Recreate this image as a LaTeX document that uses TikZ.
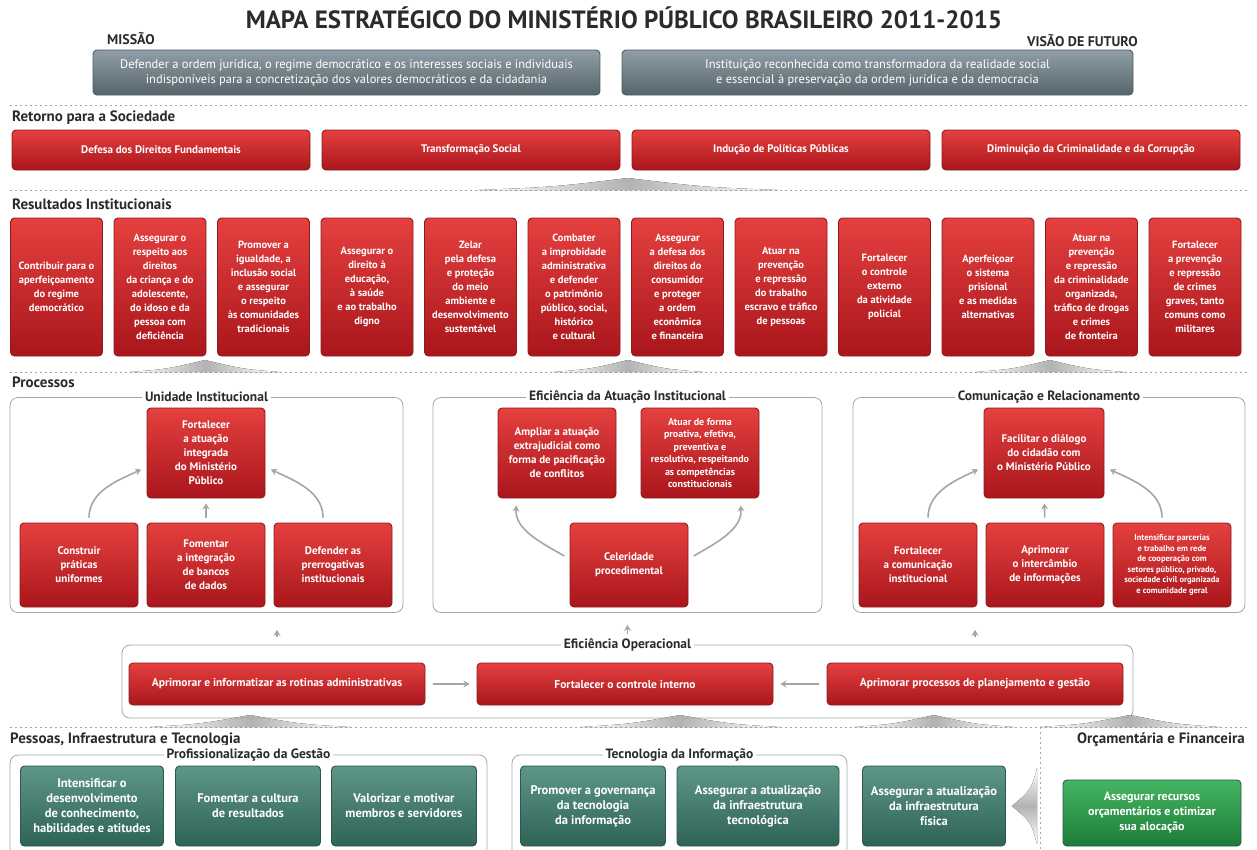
\documentclass[tikz,border=0pt]{standalone}
\usepackage{fontspec}
\setmainfont{PT Sans}
\usetikzlibrary{arrows.meta}

\definecolor{mpRedTop}{HTML}{E5403F}
\definecolor{mpRed}{HTML}{DA1F25}
\definecolor{mpRedBot}{HTML}{A9161B}
\definecolor{mpRedLine}{HTML}{8A1C1E}
\definecolor{mpGrayTop}{HTML}{909FA7}
\definecolor{mpGray}{HTML}{6F7F88}
\definecolor{mpGrayBot}{HTML}{56646B}
\definecolor{mpGrayLine}{HTML}{4E5A60}
\definecolor{mpTealTop}{HTML}{5E9688}
\definecolor{mpTeal}{HTML}{3F7B6C}
\definecolor{mpTealBot}{HTML}{2E6356}
\definecolor{mpTealLine}{HTML}{2A5A4E}
\definecolor{mpGreenTop}{HTML}{45B562}
\definecolor{mpGreen}{HTML}{27984A}
\definecolor{mpGreenBot}{HTML}{1D7C38}
\definecolor{mpLine}{HTML}{A5A5A5}
\definecolor{mpText}{HTML}{2B2B2B}

\tikzset{
  box/.style={rounded corners=4pt, line width=.9pt, text=white, align=center,
    inner sep=1pt, font=\bfseries\fontsize{10.5}{14}\selectfont},
  redbox/.style={box, draw=mpRedLine, top color=mpRedTop, middle color=mpRed,
    bottom color=mpRedBot},
  graybox/.style={box, draw=mpGrayLine, top color=mpGrayTop, middle color=mpGray,
    bottom color=mpGrayBot, font=\fontsize{12.5}{15}\selectfont},
  tealbox/.style={box, draw=mpTealLine, top color=mpTealTop, middle color=mpTeal,
    bottom color=mpTealBot, minimum height=80pt, font=\bfseries\fontsize{12.5}{15}\selectfont},
  greenbox/.style={box, draw=mpTealLine, top color=mpGreenTop, middle color=mpGreen,
    bottom color=mpGreenBot, font=\bfseries\fontsize{12}{15}\selectfont},
  retbox/.style={minimum width=298pt, minimum height=40pt,
    font=\bfseries\fontsize{11}{13}\selectfont},
  resbox/.style={minimum width=92pt, minimum height=138pt, inner xsep=0pt},
  procbox/.style={minimum width=118pt, minimum height=90pt,
    font=\bfseries\fontsize{11}{14}\selectfont},
  procbot/.style={procbox, minimum height=84pt},
  opbox/.style={minimum width=296pt, minimum height=42pt,
    font=\bfseries\fontsize{11.5}{13}\selectfont},
  frame/.style={draw=mpLine, line width=.8pt, rounded corners=8pt},
  framelbl/.style={fill=white, text=mpText, inner sep=3pt,
    font=\bfseries\fontsize{13.5}{15}\selectfont},
  seclbl/.style={anchor=west, text=mpText, inner sep=0pt,
    font=\bfseries\fontsize{15}{17}\selectfont},
  sep/.style={draw=mpLine, line width=1pt, dash pattern=on 2pt off 3pt},
  wedge/.style={left color=white, right color=white, middle color=gray!60},
  arr/.style={draw=mpLine, line width=1.6pt, -{Stealth[length=6pt,width=7pt]}},
}

\begin{document}
\begin{tikzpicture}[x=1pt,y=-1pt]
\useasboundingbox (0,0) rectangle (1257,849);
\clip (0,0) rectangle (1257,849);

% titulo, missao e visao
\node[text=mpText, font=\bfseries\fontsize{25}{27}\selectfont] (titulo) at (624,18)
  {MAPA ESTRATÉGICO DO MINISTÉRIO PÚBLICO BRASILEIRO 2011-2015};
\node[seclbl, font=\bfseries\fontsize{14}{16}\selectfont] (missao) at (107,39) {MISSÃO};
\node[seclbl, anchor=east, font=\bfseries\fontsize{14}{16}\selectfont] (visao) at (1138,41) {VISÃO DE FUTURO};
\node[graybox, minimum width=507pt, minimum height=45pt] (mis) at (346.5,72.5)
  {Defender a ordem jurídica, o regime democrático e os interesses sociais e individuais\\
   indisponíveis para a concretização dos valores democráticos e da cidadania};
\node[graybox, minimum width=511pt, minimum height=45pt] (vis) at (877.5,72.5)
  {Instituição reconhecida como transformadora da realidade social\\
   e essencial à preservação da ordem jurídica e da democracia};

% separadores
\foreach \y in {105,190,372,727}
  \draw[sep] (10,\y) -- (1247,\y);
\draw[sep] (1040,727) -- (1040,849);

% cunhas
\foreach \x/\y/\w in {628/190/150, 205/372/75, 628/372/75, 1050/372/75,
                      250/727/100, 680/727/100, 934/727/80, 1130/727/90}
  \fill[wedge] ({\x-\w},\y) .. controls ({\x-\w/2},{\y-3}) .. (\x,{\y-12})
    .. controls ({\x+\w/2},{\y-3}) .. ({\x+\w},\y) -- cycle;
\fill[top color=white, bottom color=white, middle color=gray!60]
  (1037,768) .. controls (1031,790) .. (1012,806) .. controls (1031,822) .. (1037,844) -- cycle;

% Retorno para a Sociedade
\node[seclbl] (lRet) at (12,118) {Retorno para a Sociedade};
\foreach \t [count=\i] in {Defesa dos Direitos Fundamentais, Transformação Social,
    Indução de Políticas Públicas, Diminuição da Criminalidade e da Corrupção}
  \node[redbox, retbox] (ret\i) at ({161+(\i-1)*310},150) {\t};

% Resultados Institucionais
\node[seclbl] (lRes) at (12,204) {Resultados Institucionais};
\foreach \t [count=\i] in {
    {Contribuir para o\\aperfeiçoamento\\do regime\\democrático},
    {Assegurar o\\respeito aos\\direitos\\da criança e do\\adolescente,\\do idoso e da\\pessoa com\\deficiência},
    {Promover a\\igualdade, a\\inclusão social\\e assegurar\\o respeito\\às comunidades\\tradicionais},
    {Assegurar o\\direito à\\educação,\\à saúde\\e ao trabalho\\digno},
    {Zelar\\pela defesa\\e proteção\\do meio\\ambiente e\\desenvolvimento\\sustentável},
    {Combater\\a improbidade\\administrativa\\e defender\\o patrimônio\\público, social,\\histórico\\e cultural},
    {Assegurar\\a defesa dos\\direitos do\\consumidor\\e proteger\\a ordem\\econômica\\e financeira},
    {Atuar na\\prevenção\\e repressão\\do trabalho\\escravo e tráfico\\de pessoas},
    {Fortalecer\\o controle\\externo\\da atividade\\policial},
    {Aperfeiçoar\\o sistema\\prisional\\e as medidas\\alternativas},
    {Atuar na\\prevenção\\e repressão\\da criminalidade\\organizada,\\tráfico de drogas\\e crimes\\de fronteira},
    {Fortalecer\\a prevenção\\e repressão\\de crimes\\graves, tanto\\comuns como\\militares}}
  \node[redbox, resbox] (res\i) at ({56.5+(\i-1)*103.5},287) {\t};

% Processos
\node[seclbl] (lPro) at (12,382) {Processos};
\node[frame, minimum width=393pt, minimum height=215pt] (fUni) at (206.5,505) {};
\node[frame, minimum width=389pt, minimum height=215pt] (fEfi) at (627.5,505) {};
\node[frame, minimum width=392pt, minimum height=215pt] (fCom) at (1049,505) {};
\node[framelbl] (lUni) at (fUni.north) {Unidade Institucional};
\node[framelbl] (lEfi) at (fEfi.north) {Eficiência da Atuação Institucional};
\node[framelbl] (lCom) at (fCom.north) {Comunicação e Relacionamento};

\node[redbox, procbox] (uTop) at (206,453) {Fortalecer\\a atuação\\integrada\\do Ministério\\Público};
\node[redbox, procbot] (uB1) at (79,565) {Construir\\práticas\\uniformes};
\node[redbox, procbot] (uB2) at (206,565) {Fomentar\\a integração\\de bancos\\de dados};
\node[redbox, procbot] (uB3) at (333,565) {Defender as\\prerrogativas\\institucionais};
\draw[arr, shorten <=5pt, shorten >=6pt] ([xshift=10pt]uB1.north) to[out=90, in=205] ([yshift=-14pt]uTop.west);
\draw[arr, shorten <=5pt, shorten >=5pt] (uB2) -- (uTop);
\draw[arr, shorten <=5pt, shorten >=6pt] ([xshift=-10pt]uB3.north) to[out=90, in=-25] ([yshift=-14pt]uTop.east);

\node[redbox, procbox] (eAmp) at (557,453) {Ampliar a atuação\\extrajudicial como\\forma de pacificação\\de conflitos};
\node[redbox, procbox, font=\bfseries\fontsize{10}{12.5}\selectfont] (eAtu) at (700,453)
  {Atuar de forma\\proativa, efetiva,\\preventiva e\\resolutiva, respeitando\\as competências\\constitucionais};
\node[redbox, procbot] (eCel) at (629,565) {Celeridade\\procedimental};
\draw[arr, shorten <=6pt, shorten >=7pt] ([yshift=6pt]eCel.west) to[out=150, in=-95] ([xshift=-40pt]eAmp.south);
\draw[arr, shorten <=6pt, shorten >=7pt] ([yshift=6pt]eCel.east) to[out=30, in=-85] ([xshift=40pt]eAtu.south);

\node[redbox, procbox, minimum width=120pt] (cTop) at (1044,453) {Facilitar o diálogo\\do cidadão com\\o Ministério Público};
\node[redbox, procbot] (cB1) at (918,565) {Fortalecer\\a comunicação\\institucional};
\node[redbox, procbot] (cB2) at (1045,565) {Aprimorar\\o intercâmbio\\de informações};
\node[redbox, procbot, font=\bfseries\fontsize{8.5}{10.5}\selectfont] (cB3) at (1172,565)
  {Intensificar parcerias\\e trabalho em rede\\de cooperação com\\setores público, privado,\\sociedade civil organizada\\e comunidade geral};
\draw[arr, shorten <=5pt, shorten >=6pt] ([xshift=10pt]cB1.north) to[out=90, in=205] ([yshift=-14pt]cTop.west);
\draw[arr, shorten <=5pt, shorten >=5pt] (cB2) -- (cTop);
\draw[arr, shorten <=5pt, shorten >=6pt] ([xshift=-10pt]cB3.north) to[out=90, in=-25] ([yshift=-14pt]cTop.east);

% Eficiencia Operacional
\node[frame, minimum width=1011pt, minimum height=73pt] (fOpe) at (627.5,681.5) {};
\node[framelbl] (lOpe) at (fOpe.north) {Eficiência Operacional};
\node[redbox, opbox] (oAdm) at (277,684) {Aprimorar e informatizar as rotinas administrativas};
\node[redbox, opbox] (oCon) at (625,684) {Fortalecer o controle interno};
\node[redbox, opbox] (oPla) at (975,684) {Aprimorar processos de planejamento e gestão};
\draw[arr, shorten <=8pt, shorten >=7pt] (oAdm) -- (oCon);
\draw[arr, shorten <=8pt, shorten >=7pt] (oPla) -- (oCon);
\draw[arr, shorten <=8pt, shorten >=17pt] (oAdm |- fOpe.north) -- (oAdm |- fUni.south);
\draw[arr, shorten <=1pt, shorten >=12pt] (lOpe.north) -- (fEfi.south);
\draw[arr, shorten <=8pt, shorten >=17pt] (oPla |- fOpe.north) -- (oPla |- fCom.south);

% Pessoas, Infraestrutura e Tecnologia
\node[seclbl] (lPes) at (10,740) {Pessoas, Infraestrutura e Tecnologia};
\node[seclbl, anchor=east] (lOrc) at (1245,740) {Orçamentária e Financeira};
\node[frame, minimum width=477pt, minimum height=120pt] (fPro) at (248.5,815) {};
\node[frame, minimum width=335pt, minimum height=120pt] (fTec) at (679.5,815) {};
\node[framelbl] (lPro2) at (fPro.north) {Profissionalização da Gestão};
\node[framelbl] (lTec) at (fTec.north) {Tecnologia da Informação};

\node[tealbox, minimum width=143pt] (pInt) at (92,806) {Intensificar o\\desenvolvimento\\de conhecimento,\\habilidades e atitudes};
\node[tealbox, minimum width=145pt] (pCul) at (248,806) {Fomentar a cultura\\de resultados};
\node[tealbox, minimum width=145pt] (pVal) at (404,806) {Valorizar e motivar\\membros e servidores};
\node[tealbox, minimum width=145pt] (tGov) at (593,806) {Promover a governança\\da tecnologia\\da informação};
\node[tealbox, minimum width=162pt] (tInf) at (758,806) {Assegurar a atualização\\da infraestrutura\\tecnológica};
\node[tealbox, minimum width=143pt] (xFis) at (934,806) {Assegurar a atualização\\da infraestrutura\\física};
\node[greenbox, minimum width=178pt, minimum height=66pt] (oRec) at (1152,813)
  {Assegurar recursos\\orçamentários e otimizar\\sua alocação};
\end{tikzpicture}
\end{document}
